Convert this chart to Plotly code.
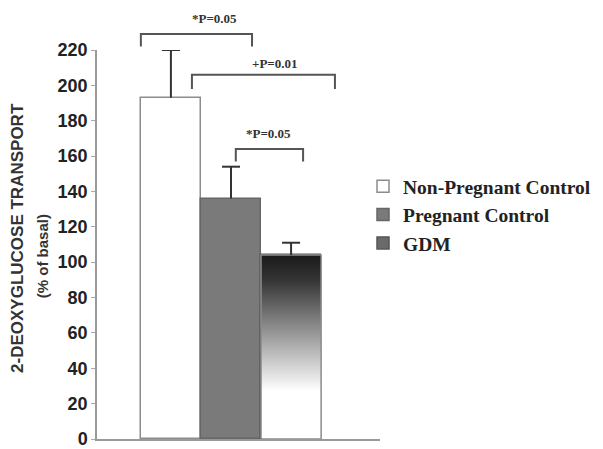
import plotly.graph_objects as go

groups = ["Non-Pregnant Control", "Pregnant Control", "GDM"]
means = [193, 136, 104]
sem_up = [27, 18, 7]
y_ticks = [0, 20, 40, 60, 80, 100, 120, 140, 160, 180, 200, 220]

# significance brackets: (left pos, right pos, bracket level, left drop, right drop, label, label level, label pos)
brackets = [
    (-0.5, 1.35, 229, 222, 222, "*P=0.05", 238, 0.72),
    (0.35, 2.73, 206, 198, 198, "+P=0.01", 212.5, 1.73),
    (1.08, 2.20, 164, 157, 157, "*P=0.05", 173, 1.62),
]

YMAX = 220
xpos = list(range(len(groups)))
outline = "#8c8c8c"
CAP = 0.15

fig = go.Figure()

fig.add_trace(go.Bar(
    x=[xpos[0]], y=[means[0]], width=1, name=groups[0],
    marker=dict(color="white", line=dict(color=outline, width=1.5)),
    legendrank=1,
))
fig.add_trace(go.Bar(
    x=[xpos[1]], y=[means[1]], width=1, name=groups[1],
    marker=dict(color="#7a7a7a", line=dict(color="#666", width=1.5)),
    legendrank=2,
))
fig.add_trace(go.Bar(
    x=[xpos[2]], y=[means[2]], width=1, name=groups[2],
    marker=dict(color="#6a6a6a", line=dict(color="#555", width=1.5)),
    legendrank=3,
))
# gradient fill of GDM bar, polygon derived from its position and value
g = xpos[2]
fig.add_trace(go.Scatter(
    x=[g - 0.5, g - 0.5, g + 0.5, g + 0.5, g - 0.5],
    y=[0, means[2], means[2], 0, 0],
    mode="lines", fill="toself", showlegend=False,
    line=dict(color=outline, width=1.5),
    fillgradient=dict(type="vertical", start=0, stop=means[2],
                      colorscale=[[0, "white"], [0.26, "white"], [0.5, "#b0b0b0"],
                                  [0.66, "#7a7a7a"], [0.87, "#333333"], [1, "#1a1a1a"]]),
    hoverinfo="skip",
))

# upward-only error bars built from means and sem
ex, ey = [], []
for i, m, s in zip(xpos, means, sem_up):
    ex += [i, i, None, i - CAP, i + CAP, None]
    ey += [m, m + s, None, m + s, m + s, None]
fig.add_trace(go.Scatter(x=ex, y=ey, mode="lines", showlegend=False,
                         line=dict(color="#333", width=2), hoverinfo="skip"))

shapes = []
annotations = []
for (x0, x1, lvl, d0, d1, lab, ly, lx) in brackets:
    shapes.append(dict(type="path", xref="x", yref="paper",
                       path=f"M {x0},{d0 / YMAX} L {x0},{lvl / YMAX} L {x1},{lvl / YMAX} L {x1},{d1 / YMAX}",
                       line=dict(color="#555", width=2)))
    annotations.append(dict(x=lx, y=ly / YMAX, xref="x", yref="paper", text="<b>" + lab + "</b>",
                            xanchor="center", yanchor="middle",
                            showarrow=False, font=dict(family="Liberation Serif, Times New Roman, serif",
                                                       size=13, color="#333")))

annotations.append(dict(x=-0.279, y=0.517, xref="paper", yref="paper", xanchor="center", yanchor="middle",
                        text="<b>2-DEOXYGLUCOSE TRANSPORT</b>", textangle=-90, showarrow=False,
                        font=dict(family="Liberation Sans Narrow, Arial Narrow, Arial, sans-serif",
                                  size=17, color="#333")))
annotations.append(dict(x=-0.194, y=0.47, xref="paper", yref="paper", xanchor="center", yanchor="middle",
                        text="<b>(% of basal)</b>", textangle=-90, showarrow=False,
                        font=dict(family="Liberation Sans Narrow, Arial Narrow, Arial, sans-serif",
                                  size=15, color="#333")))

fig.update_layout(
    width=603, height=449,
    margin=dict(l=97, r=223, t=50, b=10, autoexpand=False),
    paper_bgcolor="white", plot_bgcolor="white",
    bargap=0,
    shapes=shapes, annotations=annotations,
    showlegend=True,
    legend=dict(xref="container", yref="container", x=0.602, y=0.628,
                xanchor="left", yanchor="top",
                font=dict(family="Liberation Serif, Times New Roman, serif", size=19.5, color="#222",
                          weight="bold"),
                itemwidth=30, tracegroupgap=0, bgcolor="rgba(0,0,0,0)"),
    xaxis=dict(range=[-1.23, 3.48], showgrid=False, zeroline=False, showticklabels=False,
               ticks="", showline=True, linecolor="#999", linewidth=1.5, fixedrange=True,
               automargin=False),
    yaxis=dict(range=[0, YMAX], tickvals=y_ticks, showgrid=False, zeroline=False,
               ticks="outside", ticklen=4, tickcolor="#aaa", showline=True,
               linecolor="#999", linewidth=1.5, automargin=False, ticklabeloverflow="allow",
               fixedrange=True,
               tickfont=dict(family="Arial, Liberation Sans, sans-serif", size=18, color="#222",
                             weight="bold")),
)

fig.write_html("out.html", config={"displayModeBar": False},
               post_script="document.body.style.margin='0';")
